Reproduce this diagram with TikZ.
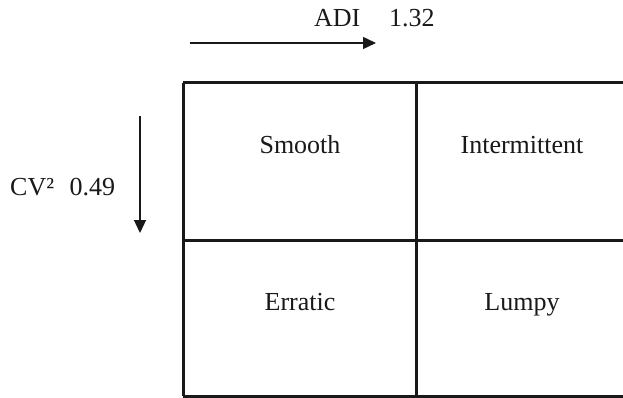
\documentclass[tikz,border=0pt]{standalone}
\usepackage{fontspec}
\setmainfont{Liberation Serif}
\usetikzlibrary{arrows.meta}
\begin{document}
\begin{tikzpicture}[x=1pt,y=-1pt,
  lbl/.style={font=\fontsize{26}{30}\selectfont, inner sep=0pt, text=black!90, anchor=base},
  gridline/.style={line width=3pt, draw=black!90},
  axisarrow/.style={line width=1.3pt, draw=black!90, -{Triangle[length=13pt,width=12pt]}}]
\useasboundingbox (0,0) rectangle (623,398);
% grid
\coordinate (tl) at (183,83);
\coordinate (tr) at (625,83);
\coordinate (ml) at (183,240);
\coordinate (mr) at (625,240);
\coordinate (bl) at (183,396);
\coordinate (br) at (625,396);
\coordinate (mt) at (416,83);
\coordinate (mb) at (416,396);
\draw[gridline] (tl) -- (tr);
\draw[gridline] (ml) -- (mr);
\draw[gridline] (bl) -- (br);
\draw[gridline] (tl) -- (bl);
\draw[gridline] (mt) -- (mb);
% labels
\node[lbl] (smooth) at (300,154) {Smooth};
\node[lbl] (inter) at (522,154) {Intermittent};
\node[lbl] (erratic) at (300,310) {Erratic};
\node[lbl] (lumpy) at (522,310) {Lumpy};
% axes
\node[lbl, anchor=base west] (adi) at (314,27) {ADI\hspace{1.1em}1.32};
\coordinate (h0) at (190,43);
\coordinate (h1) at (376,43);
\draw[axisarrow] (h0) -- (h1);
\node[lbl, anchor=base west] (cv) at (10,195) {CV²\hspace{0.6em}0.49};
\coordinate (v0) at (140,116);
\coordinate (v1) at (140,233);
\draw[axisarrow] (v0) -- (v1);
\end{tikzpicture}
\end{document}
